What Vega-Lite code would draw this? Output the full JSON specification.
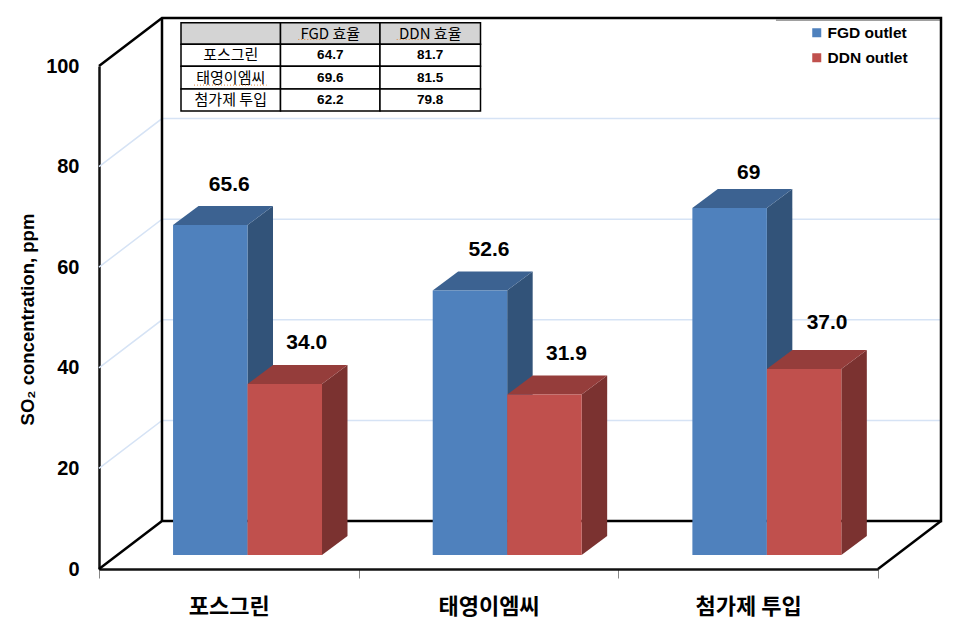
{
"$schema":"https://vega.github.io/schema/vega-lite/v6.json",
"width":779,"height":503,
"autosize":"none",
"padding":{"left":99,"top":66,"right":78,"bottom":49},
"background":"white",
"config":{"view":{"stroke":null},"font":"Liberation Sans"},
"datasets":{
"bars":[
{"group":"포스그린","series":"FGD outlet","value":65.6,"label":"65.6"},
{"group":"포스그린","series":"DDN outlet","value":34.0,"label":"34.0"},
{"group":"태영이엠씨","series":"FGD outlet","value":52.6,"label":"52.6"},
{"group":"태영이엠씨","series":"DDN outlet","value":31.9,"label":"31.9"},
{"group":"첨가제 투입","series":"FGD outlet","value":69,"label":"69"},
{"group":"첨가제 투입","series":"DDN outlet","value":37.0,"label":"37.0"}
],
"faces":[
{"id":"b1s","key":"FGD side","x":0.5719,"y":68.38,"y2":2.78},{"id":"b1s","key":"FGD side","x":0.6701,"y":72.16,"y2":6.56},
{"id":"b1t","key":"FGD top","x":0.285,"y":68.38,"y2":68.38},{"id":"b1t","key":"FGD top","x":0.3832,"y":72.16,"y2":68.38},{"id":"b1t","key":"FGD top","x":0.5719,"y":72.16,"y2":68.38},{"id":"b1t","key":"FGD top","x":0.6701,"y":72.16,"y2":72.16},
{"id":"b2s","key":"DDN side","x":0.8588,"y":36.78,"y2":2.78},{"id":"b2s","key":"DDN side","x":0.957,"y":40.56,"y2":6.56},
{"id":"b2t","key":"DDN top","x":0.5719,"y":36.78,"y2":36.78},{"id":"b2t","key":"DDN top","x":0.6701,"y":40.56,"y2":36.78},{"id":"b2t","key":"DDN top","x":0.8588,"y":40.56,"y2":36.78},{"id":"b2t","key":"DDN top","x":0.957,"y":40.56,"y2":40.56},
{"id":"b3s","key":"FGD side","x":1.5719,"y":55.38,"y2":2.78},{"id":"b3s","key":"FGD side","x":1.6701,"y":59.16,"y2":6.56},
{"id":"b3t","key":"FGD top","x":1.285,"y":55.38,"y2":55.38},{"id":"b3t","key":"FGD top","x":1.3832,"y":59.16,"y2":55.38},{"id":"b3t","key":"FGD top","x":1.5719,"y":59.16,"y2":55.38},{"id":"b3t","key":"FGD top","x":1.6701,"y":59.16,"y2":59.16},
{"id":"b4s","key":"DDN side","x":1.8588,"y":34.68,"y2":2.78},{"id":"b4s","key":"DDN side","x":1.957,"y":38.46,"y2":6.56},
{"id":"b4t","key":"DDN top","x":1.5719,"y":34.68,"y2":34.68},{"id":"b4t","key":"DDN top","x":1.6701,"y":38.46,"y2":34.68},{"id":"b4t","key":"DDN top","x":1.8588,"y":38.46,"y2":34.68},{"id":"b4t","key":"DDN top","x":1.957,"y":38.46,"y2":38.46},
{"id":"b5s","key":"FGD side","x":2.5719,"y":71.78,"y2":2.78},{"id":"b5s","key":"FGD side","x":2.6701,"y":75.56,"y2":6.56},
{"id":"b5t","key":"FGD top","x":2.285,"y":71.78,"y2":71.78},{"id":"b5t","key":"FGD top","x":2.3832,"y":75.56,"y2":71.78},{"id":"b5t","key":"FGD top","x":2.5719,"y":75.56,"y2":71.78},{"id":"b5t","key":"FGD top","x":2.6701,"y":75.56,"y2":75.56},
{"id":"b6s","key":"DDN side","x":2.8588,"y":39.78,"y2":2.78},{"id":"b6s","key":"DDN side","x":2.957,"y":43.56,"y2":6.56},
{"id":"b6t","key":"DDN top","x":2.5719,"y":39.78,"y2":39.78},{"id":"b6t","key":"DDN top","x":2.6701,"y":43.56,"y2":39.78},{"id":"b6t","key":"DDN top","x":2.8588,"y":43.56,"y2":39.78},{"id":"b6t","key":"DDN top","x":2.957,"y":43.56,"y2":43.56}
],
"wall":[
{"s":"a","i":0,"x":0,"y":100},{"s":"a","i":1,"x":0.2426,"y":109.54},{"s":"a","i":2,"x":3.2426,"y":109.54},{"s":"a","i":3,"x":3.2426,"y":9.54},{"s":"a","i":4,"x":0.2426,"y":9.54},{"s":"a","i":5,"x":0,"y":0},
{"s":"b","i":0,"x":0.2426,"y":109.54},{"s":"b","i":1,"x":0.2426,"y":9.54},
{"s":"c","i":0,"x":3,"y":0},{"s":"c","i":1,"x":3.2426,"y":9.54}
],
"shade":[{"s":"t","i":0,"x":2.607,"y":109.12},{"s":"t","i":1,"x":3.2426,"y":109.12}],
"grid":[
{"s":"20","i":0,"x":0,"y":20},{"s":"20","i":1,"x":0.2426,"y":29.54},{"s":"20","i":2,"x":3.2426,"y":29.54},
{"s":"40","i":0,"x":0,"y":40},{"s":"40","i":1,"x":0.2426,"y":49.54},{"s":"40","i":2,"x":3.2426,"y":49.54},
{"s":"60","i":0,"x":0,"y":60},{"s":"60","i":1,"x":0.2426,"y":69.54},{"s":"60","i":2,"x":3.2426,"y":69.54},
{"s":"80","i":0,"x":0,"y":80},{"s":"80","i":1,"x":0.2426,"y":89.54},{"s":"80","i":2,"x":3.2426,"y":89.54}
],
"cells":[
{"h":1,"x":0.3158,"x2":0.699,"y":108.6,"y2":104.3},{"h":1,"x":0.699,"x2":1.0821,"y":108.6,"y2":104.3},{"h":1,"x":1.0821,"x2":1.4692,"y":108.6,"y2":104.3},
{"h":0,"x":0.3158,"x2":0.699,"y":104.3,"y2":99.94},{"h":0,"x":0.699,"x2":1.0821,"y":104.3,"y2":99.94},{"h":0,"x":1.0821,"x2":1.4692,"y":104.3,"y2":99.94},
{"h":0,"x":0.3158,"x2":0.699,"y":99.94,"y2":95.43},{"h":0,"x":0.699,"x2":1.0821,"y":99.94,"y2":95.43},{"h":0,"x":1.0821,"x2":1.4692,"y":99.94,"y2":95.43},
{"h":0,"x":0.3158,"x2":0.699,"y":95.43,"y2":91.05},{"h":0,"x":0.699,"x2":1.0821,"y":95.43,"y2":91.05},{"h":0,"x":1.0821,"x2":1.4692,"y":95.43,"y2":91.05}
],
"spell":[
{"s":"f","i":0,"x":0.7674,"y":105.27},{"s":"f","i":1,"x":0.8767,"y":105.27},
{"s":"d","i":0,"x":1.1464,"y":105.27},{"s":"d","i":1,"x":1.2658,"y":105.27},
{"s":"t","i":0,"x":0.3659,"y":96.2},{"s":"t","i":1,"x":0.6458,"y":96.2}
],
"tabletext":[
{"x":0.8906,"y":106.45,"t":"FGD 효율"},{"x":1.2756,"y":106.45,"t":"DDN 효율"},
{"x":0.5074,"y":102.1,"t":"포스그린"},{"x":0.8906,"y":102.1,"t":"64.7"},{"x":1.2756,"y":102.1,"t":"81.7"},
{"x":0.5074,"y":97.7,"t":"태영이엠씨"},{"x":0.8906,"y":97.7,"t":"69.6"},{"x":1.2756,"y":97.7,"t":"81.5"},
{"x":0.5074,"y":93.25,"t":"첨가제 투입"},{"x":0.8906,"y":93.25,"t":"62.2"},{"x":1.2756,"y":93.25,"t":"79.8"}
]
},
"resolve":{"scale":{"x":"independent"}},
"layer":[
{"data":{"name":"grid"},"mark":{"type":"line","stroke":"#d6e3f5","strokeWidth":1.5},
 "encoding":{"x":{"field":"x","type":"quantitative","scale":{"domain":[0,3]},"axis":null},
 "y":{"field":"y","type":"quantitative","scale":{"domain":[0,100],"nice":false},
  "axis":{"values":[0,20,40,60,80,100],"grid":false,"ticks":false,"domainColor":"#111111","domainWidth":2.5,"labelFontWeight":"bold","labelFontSize":20,"labelColor":"#000000","labelPadding":20,"title":"SO₂ concentration, ppm","titleFontSize":18.5,"titleFontWeight":"bold","titleColor":"#000000","titleX":-62,"titleY":253}},
 "detail":{"field":"s"},"order":{"field":"i"}}},
{"data":{"name":"shade"},"mark":{"type":"line","stroke":"#a0a0a0","strokeWidth":1.5},
 "encoding":{"x":{"field":"x","type":"quantitative","scale":{"domain":[0,3]},"axis":null},"y":{"field":"y","type":"quantitative"},"detail":{"field":"s"},"order":{"field":"i"}}},
{"data":{"name":"wall"},"mark":{"type":"line","stroke":"#000000","strokeWidth":2.5},
 "encoding":{"x":{"field":"x","type":"quantitative","scale":{"domain":[0,3]},"axis":null},"y":{"field":"y","type":"quantitative"},"detail":{"field":"s"},"order":{"field":"i"}}},
{"data":{"name":"faces"},"mark":{"type":"area","orient":"vertical"},
 "encoding":{"x":{"field":"x","type":"quantitative","scale":{"domain":[0,3]},"axis":null},"y":{"field":"y","type":"quantitative","stack":null},"y2":{"field":"y2"},"detail":{"field":"id"},
 "color":{"field":"key","type":"nominal","scale":{"domain":["FGD outlet","DDN outlet","FGD top","FGD side","DDN top","DDN side"],"range":["#4F81BD","#C0504D","#3C6291","#325379","#953D3B","#7B3230"]},
  "legend":{"values":["FGD outlet","DDN outlet"],"title":null,"orient":"none","legendX":710,"legendY":-41,"symbolType":"square","symbolSize":81,"labelFontSize":15.5,"labelFontWeight":"bold","labelColor":"#000000","rowPadding":8,"labelOffset":3}}}},
{"data":{"name":"bars"},"mark":{"type":"bar","yOffset":-14,"y2Offset":-14},
 "encoding":{
 "x":{"field":"group","type":"nominal","sort":null,"scale":{"domain":["포스그린","태영이엠씨","첨가제 투입"],"paddingInner":0,"paddingOuter":0},
  "axis":{"title":null,"orient":"bottom","tickBand":"extent","domainColor":"#111111","domainWidth":2.5,"tickColor":"#888888","tickSize":9,"tickWidth":1,"labelAngle":0,"labelFont":"Noto Sans CJK KR","labelFontWeight":"bold","labelFontSize":22,"labelColor":"#000000","labelPadding":18}},
 "xOffset":{"field":"series","type":"nominal","sort":null,"scale":{"domain":["FGD outlet","DDN outlet"],"paddingInner":0,"paddingOuter":0.743,"align":0.669}},
 "y":{"field":"value","type":"quantitative","stack":null},
 "y2":{"datum":0},
 "color":{"field":"series","type":"nominal"}}},
{"data":{"name":"bars"},"transform":[{"filter":"datum.series=='FGD outlet' && datum.value!=69"}],"mark":{"type":"text","font":"Liberation Sans","fontWeight":"bold","fontSize":21,"color":"#000000","dx":19,"dy":-54,"baseline":"middle"},
 "encoding":{
 "x":{"field":"group","type":"nominal","sort":null,"scale":{"domain":["포스그린","태영이엠씨","첨가제 투입"],"paddingInner":0,"paddingOuter":0},"axis":null},
 "xOffset":{"field":"series","type":"nominal","sort":null,"scale":{"domain":["FGD outlet","DDN outlet"],"paddingInner":0,"paddingOuter":0.743,"align":0.669}},
 "y":{"field":"value","type":"quantitative"},
 "text":{"field":"label"}}},
{"data":{"name":"bars"},"transform":[{"filter":"datum.value==69"}],"mark":{"type":"text","font":"Liberation Sans","fontWeight":"bold","fontSize":21,"color":"#000000","dx":19,"dy":-49,"baseline":"middle"},
 "encoding":{
 "x":{"field":"group","type":"nominal","sort":null,"scale":{"domain":["포스그린","태영이엠씨","첨가제 투입"],"paddingInner":0,"paddingOuter":0},"axis":null},
 "xOffset":{"field":"series","type":"nominal","sort":null,"scale":{"domain":["FGD outlet","DDN outlet"],"paddingInner":0,"paddingOuter":0.743,"align":0.669}},
 "y":{"field":"value","type":"quantitative"},
 "text":{"field":"label"}}},
{"data":{"name":"bars"},"transform":[{"filter":"datum.series=='DDN outlet' && datum.value!=37"}],"mark":{"type":"text","font":"Liberation Sans","fontWeight":"bold","fontSize":21,"color":"#000000","dx":22,"dy":-55,"baseline":"middle"},
 "encoding":{
 "x":{"field":"group","type":"nominal","sort":null,"scale":{"domain":["포스그린","태영이엠씨","첨가제 투입"],"paddingInner":0,"paddingOuter":0},"axis":null},
 "xOffset":{"field":"series","type":"nominal","sort":null,"scale":{"domain":["FGD outlet","DDN outlet"],"paddingInner":0,"paddingOuter":0.743,"align":0.669}},
 "y":{"field":"value","type":"quantitative"},
 "text":{"field":"label"}}},
{"data":{"name":"bars"},"transform":[{"filter":"datum.value==37"}],"mark":{"type":"text","font":"Liberation Sans","fontWeight":"bold","fontSize":21,"color":"#000000","dx":23,"dy":-60,"baseline":"middle"},
 "encoding":{
 "x":{"field":"group","type":"nominal","sort":null,"scale":{"domain":["포스그린","태영이엠씨","첨가제 투입"],"paddingInner":0,"paddingOuter":0},"axis":null},
 "xOffset":{"field":"series","type":"nominal","sort":null,"scale":{"domain":["FGD outlet","DDN outlet"],"paddingInner":0,"paddingOuter":0.743,"align":0.669}},
 "y":{"field":"value","type":"quantitative"},
 "text":{"field":"label"}}},
{"data":{"name":"cells"},"transform":[{"filter":"datum.h==1"}],"mark":{"type":"rect","fill":"#d4d4d4","stroke":"#000000","strokeWidth":1.5},
 "encoding":{"x":{"field":"x","type":"quantitative","scale":{"domain":[0,3]},"axis":null},"x2":{"field":"x2"},"y":{"field":"y","type":"quantitative"},"y2":{"field":"y2"}}},
{"data":{"name":"cells"},"transform":[{"filter":"datum.h==0"}],"mark":{"type":"rect","fill":"#ffffff","stroke":"#000000","strokeWidth":1.5},
 "encoding":{"x":{"field":"x","type":"quantitative","scale":{"domain":[0,3]},"axis":null},"x2":{"field":"x2"},"y":{"field":"y","type":"quantitative"},"y2":{"field":"y2"}}},
{"data":{"name":"tabletext"},"transform":[{"filter":"!test(/^[0-9.]+$/, datum.t)"}],"mark":{"type":"text","font":"Noto Sans CJK KR","fontSize":15,"color":"#000000","baseline":"middle"},
 "encoding":{"x":{"field":"x","type":"quantitative","scale":{"domain":[0,3]},"axis":null},"y":{"field":"y","type":"quantitative"},"text":{"field":"t"}}},
{"data":{"name":"tabletext"},"transform":[{"filter":"test(/^[0-9.]+$/, datum.t)"}],"mark":{"type":"text","font":"Liberation Sans","fontSize":13.5,"fontWeight":"bold","color":"#000000","baseline":"middle"},
 "encoding":{"x":{"field":"x","type":"quantitative","scale":{"domain":[0,3]},"axis":null},"y":{"field":"y","type":"quantitative"},"text":{"field":"t"}}},
{"data":{"name":"spell"},"mark":{"type":"line","stroke":"#e08a3c","strokeWidth":1,"strokeDash":[1,2]},
 "encoding":{"x":{"field":"x","type":"quantitative","scale":{"domain":[0,3]},"axis":null},"y":{"field":"y","type":"quantitative"},"detail":{"field":"s"},"order":{"field":"i"}}}
]
}
